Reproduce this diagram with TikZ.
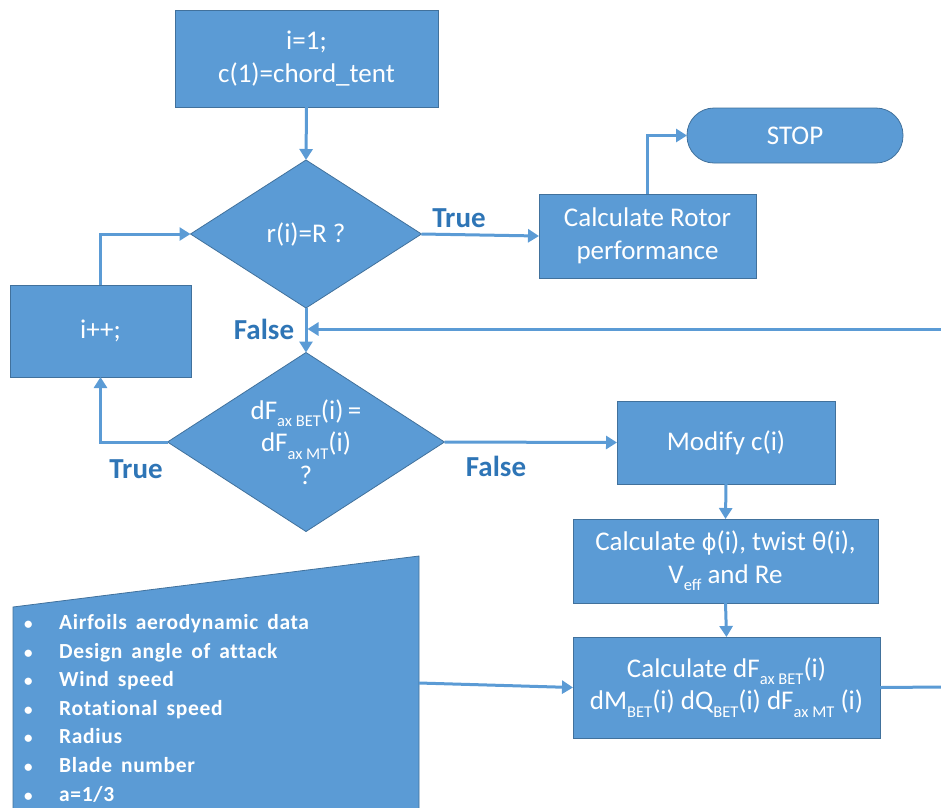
\documentclass[tikz,border=0pt]{standalone}
\usepackage{fontspec}
\setmainfont{Carlito}
\newfontfamily\symfam[Scale=0.85]{DejaVu Sans}
\newfontfamily\bulletfam[LetterSpace=3,Ligatures=NoCommon]{Carlito}
\usetikzlibrary{shapes.geometric,arrows.meta}
\definecolor{boxblue}{RGB}{91,155,213}
\definecolor{edgeblue}{RGB}{65,113,156}
\definecolor{lblblue}{RGB}{46,117,182}
\newcommand\lsub[1]{\raisebox{-0.28em}{\fontsize{16.5}{16.5}\selectfont #1}}
\newcommand\wsp{\hspace{9pt}}
\begin{document}
\begin{tikzpicture}[x=1pt,y=-1pt,
  box/.style={draw=edgeblue,line width=0.8pt,fill=boxblue,text=white,align=center,
    font=\fontsize{27}{32.5}\selectfont,inner sep=0pt,outer sep=0pt},
  decision/.style={box,shape=diamond,aspect=1.55},
  flow/.style={draw=boxblue,line width=3pt,-{Triangle[width=13pt,length=11pt]}},
  plain/.style={draw=boxblue,line width=3pt},
  lbl/.style={text=lblblue,font=\fontsize{29}{29}\selectfont\bfseries,inner sep=0pt},
  bullet/.style={anchor=base west,text=white,inner sep=0pt,font=\bulletfam\fontsize{21.5}{21.5}\selectfont\bfseries}]
\useasboundingbox (0,0) rectangle (941,807);

% nodes
\node[box,minimum width=263pt,minimum height=97pt] (init) at (306.5,58.5) {i=1;\\c(1)=chord\_tent};
\node[decision,minimum width=231pt,minimum height=148pt] (d1) at (306,234) {r(i)=R ?};
\node[box,minimum width=217pt,minimum height=84pt] (rotor) at (647.5,236) {Calculate Rotor\\performance};
\node[box,minimum width=216pt,minimum height=55pt,rounded corners=27pt] (stop) at (795,135.5) {STOP};
\node[box,minimum width=181pt,minimum height=92pt] (inc) at (100.5,331) {i++;};
\node[decision,minimum width=277pt,minimum height=179pt] (d2) at (306,442)
  {dF\lsub{ax BET}(i)\,=\\dF\lsub{ax MT}(i)\\?};
\node[box,minimum width=218pt,minimum height=83pt] (mod) at (726,442.5) {Modify c(i)};
\node[box,minimum width=305pt,minimum height=84pt] (phi) at (725.5,561)
  {Calculate {\symfam ϕ}(i), twist θ(i),\\V\lsub{eff} and Re};
\node[box,minimum width=307pt,minimum height=101pt] (calc) at (726.5,687.5)
  {Calculate dF\lsub{ax BET}(i)\\dM\lsub{BET}(i) dQ\lsub{BET}(i) dF\lsub{ax MT} (i)};

% manual input shape
\path[draw=edgeblue,line width=0.8pt,fill=boxblue] (13,607) -- (419,556) -- (419,815) -- (13,815) -- cycle;
\foreach \t [count=\i] in {Airfoils\wsp aerodynamic\wsp data,Design\wsp angle\wsp of\wsp attack,Wind\wsp speed,
    Rotational\wsp speed,Radius,Blade\wsp number,a=1/3}
  \node[bullet] (b\i) at (24,{629.5+28.6*(\i-1)}) {\makebox[35pt][l]{\fontsize{17}{17}\selectfont•}\t};
\coordinate (inpout) at (419,683);
\coordinate (E1) at (941,329);
\coordinate (E2) at (941,687);

% connectors
\draw[flow] (init.south) -- (d1.north);
\draw[flow] (d1.east) -- (rotor.west);
\draw[flow] (rotor.north) |- (stop.west);
\draw[flow] (inc.north) |- (d1.west);
\draw[flow] (d1.south) -- (d2.north);
\draw[flow] (E1) -- ([xshift=1.5pt]d1.south |- E1);
\draw[flow] (d2.west) -| (inc.south);
\draw[flow] (d2.east) -- (mod.west);
\draw[flow] (mod.south) -- (phi.north);
\draw[flow] (phi.south) -- (calc.north);
\draw[plain] (calc.east) -- (E2);
\draw[flow] (inpout) -- (calc.west);

% labels
\node[lbl] (t1) at (459,218) {True};
\node[lbl] (f1) at (264,329) {False};
\node[lbl] (t2) at (136,469) {True};
\node[lbl] (f2) at (496,466) {False};
\end{tikzpicture}
\end{document}
